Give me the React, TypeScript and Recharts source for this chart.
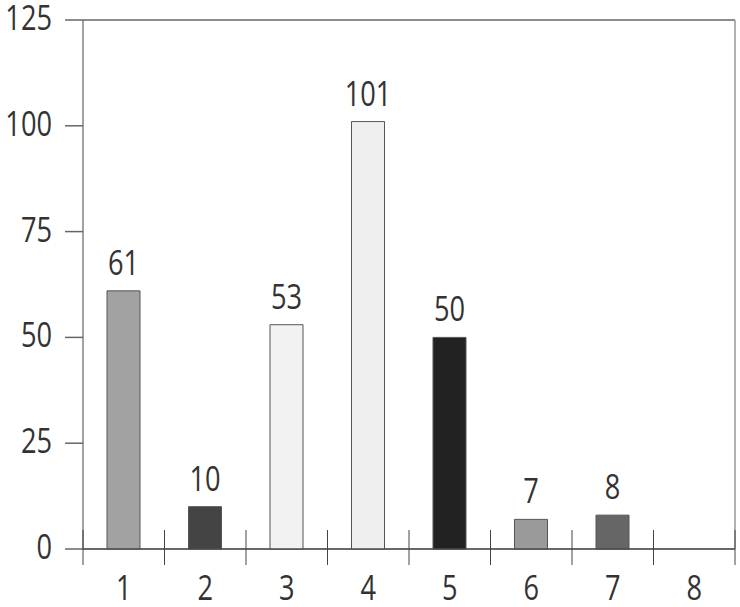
import React from 'react'
import { BarChart, Bar, XAxis, YAxis, CartesianGrid, Cell, LabelList } from 'recharts'

const categories = ['1', '2', '3', '4', '5', '6', '7', '8']
const values: (number | null)[] = [61, 10, 53, 101, 50, 7, 8, null]
const barColors = ['#a2a2a2', '#444444', '#f2f2f2', '#efefef', '#222222', '#9a9a9a', '#666666', '#ffffff']
const yTicks = [0, 25, 50, 75, 100, 125]

const data = categories.map((c, i) => ({ cat: c, value: values[i] }))

const FONT = '"Open Sans", sans-serif'
const TEXT = '#333333'
const FS = 34
const SQUEEZE = 0.8 // the reference font is a narrow one

const Narrow = ({ x, y, anchor, children }: any) => (
  <text
    transform={`translate(${x},${y}) scale(${SQUEEZE},1)`}
    textAnchor={anchor}
    fontSize={FS}
    fontFamily={FONT}
    fill={TEXT}
  >
    {children}
  </text>
)

// x ticks: label in the middle of the band, tick marks on the band edges
const XTick = (props: any) => {
  const { x, y, payload, index, width, visibleTicksCount } = props
  const bw = width / visibleTicksCount
  const isLast = index === visibleTicksCount - 1
  return (
    <g>
      <line x1={x - bw / 2} x2={x - bw / 2} y1={y - 19} y2={y + 16} stroke="#444" strokeWidth={1} />
      {isLast && (
        <line x1={x + bw / 2} x2={x + bw / 2} y1={y - 19} y2={y + 16} stroke="#444" strokeWidth={1} />
      )}
      <Narrow x={x} y={y + 51} anchor="middle">
        {payload.value}
      </Narrow>
    </g>
  )
}

const YTick = (props: any) => {
  const { x, y, payload } = props
  return (
    <Narrow x={x} y={y + 10} anchor="end">
      {payload.value}
    </Narrow>
  )
}

const BarValue = (props: any) => {
  const { x, y, width, value } = props
  if (value == null) return null
  return (
    <Narrow x={x + width / 2} y={y - 16} anchor="middle">
      {value}
    </Narrow>
  )
}

export default function App() {
  return (
    <div style={{ position: 'absolute', left: 0, top: 0, background: '#fff' }}>
      <BarChart
        width={740}
        height={607}
        data={data}
        margin={{ top: 20, right: 0, bottom: 0, left: 0 }}
      >
        <CartesianGrid horizontal vertical={false} stroke="#666" strokeWidth={1.5} />
        <XAxis
          dataKey="cat"
          axisLine={{ stroke: '#444' }}
          tickLine={false}
          tickSize={0}
          tickMargin={0}
          tick={<XTick />}
          interval={0}
          height={58}
        />
        <YAxis
          yAxisId="left"
          domain={[0, 125]}
          ticks={yTicks}
          width={83}
          tickSize={18}
          tickMargin={13}
          axisLine={{ stroke: '#444' }}
          tickLine={{ stroke: '#666', strokeWidth: 1.5 }}
          tick={<YTick />}
          interval={0}
        />
        <YAxis
          yAxisId="right"
          orientation="right"
          domain={[0, 125]}
          width={5}
          tick={false}
          tickLine={false}
          axisLine={{ stroke: '#999', strokeWidth: 1.5 }}
        />
        <Bar yAxisId="left" dataKey="value" barSize={33} stroke="#555" strokeWidth={1} isAnimationActive={false}>
          {data.map((d, i) => (
            <Cell key={d.cat} fill={barColors[i]} />
          ))}
          <LabelList dataKey="value" content={<BarValue />} />
        </Bar>
      </BarChart>
    </div>
  )
}
